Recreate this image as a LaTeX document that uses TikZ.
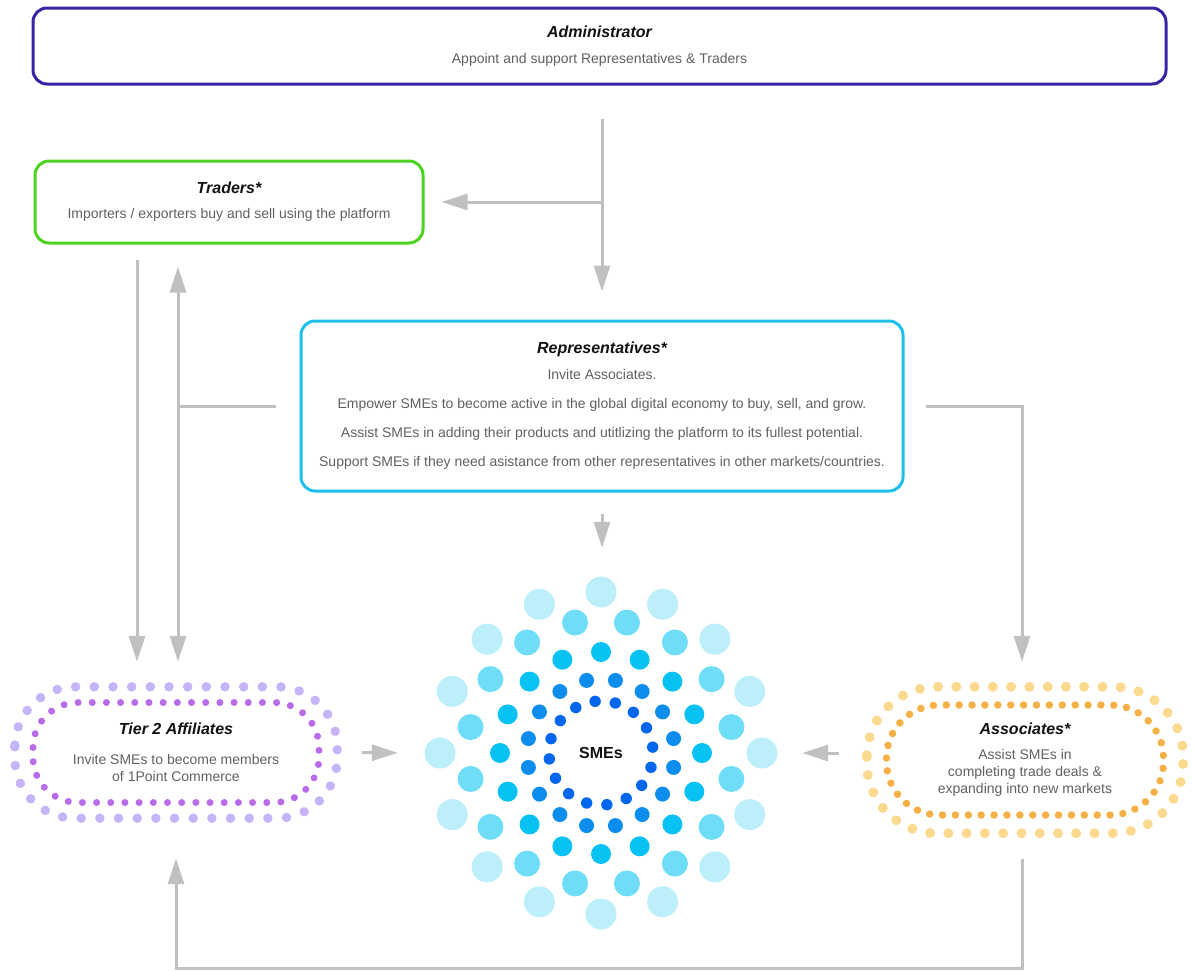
\documentclass[tikz,border=0pt]{standalone}
\usepackage{fontspec}
\setmainfont{Liberation Sans}
\usetikzlibrary{arrows.meta}

\definecolor{admincol}{HTML}{3525A5}
\definecolor{tradecol}{HTML}{4CD31F}
\definecolor{repcol}{HTML}{1EBFEA}
\definecolor{arrowcol}{HTML}{C0C0C0}
\definecolor{titlecol}{HTML}{111111}
\definecolor{bodycol}{HTML}{606060}
\definecolor{tierout}{HTML}{C5B4F7}
\definecolor{tierin}{HTML}{B86CEA}
\definecolor{assocout}{HTML}{FBD98E}
\definecolor{associn}{HTML}{F5B046}
\definecolor{smesA}{HTML}{BDEFFB}
\definecolor{smesB}{HTML}{6FDDF8}
\definecolor{smesC}{HTML}{08C2F3}
\definecolor{smesD}{HTML}{0D8EEE}
\definecolor{smesE}{HTML}{0066EE}

\newcommand{\boxtitle}[1]{{\fontsize{16}{19}\selectfont\bfseries\itshape\color{titlecol}#1}}

\begin{document}
\begin{tikzpicture}[x=1pt, y=-1pt,
    roundbox/.style={draw, line width=3pt, rounded corners=14pt, align=center, inner sep=0pt,
        font=\fontsize{14}{17}\selectfont, text=bodycol},
    ringnode/.style={align=center, inner sep=0pt, font=\fontsize{14}{17}\selectfont, text=bodycol},
    dotring/.style={line cap=round},
    flow/.style={line width=3pt, draw=arrowcol, >={Triangle[length=26pt,width=16pt]}, ->}]
    \useasboundingbox (0,0) rectangle (1193,970);

    % Role boxes
    \node[roundbox, draw=admincol, minimum width=1133pt, minimum height=76pt] (admin) at (599.5,46) {%
        \boxtitle{Administrator}\\[9pt]%
        Appoint and support Representatives \& Traders%
    };

    \node[roundbox, draw=tradecol, minimum width=388pt, minimum height=82pt] (traders) at (229,202) {%
        \boxtitle{Traders*}\\[8pt]%
        Importers / exporters buy and sell using the platform%
    };

    \node[roundbox, draw=repcol, minimum width=602pt, minimum height=170pt] (reps) at (602,406) {%
        \boxtitle{Representatives*}\\[9pt]%
        Invite Associates.\\[12pt]%
        Empower SMEs to become active in the global digital economy to buy, sell, and grow.\\[12pt]%
        Assist SMEs in adding their products and utitlizing the platform to its fullest potential.\\[12pt]%
        Support SMEs if they need asistance from other representatives in other markets/countries.%
    };

    % Dotted rings
    \node[ringnode, minimum width=322pt, minimum height=131pt] (tier) at (176,752.5) {%
        \boxtitle{Tier 2 Affiliates}\\[13pt]%
        Invite SMEs to become members\\%
        of 1Point Commerce%
    };
    \draw[dotring, draw=tierout, line width=9.5pt, dash pattern=on 0.01pt off 18.66pt, rounded corners=60pt]
        (tier.north west) rectangle (tier.south east);
    \draw[dotring, draw=tierin, line width=7pt, dash pattern=on 0.01pt off 14.17pt, rounded corners=45pt]
        ([shift={(-143,-50)}]tier.center) rectangle ([shift={(143,50)}]tier.center);

    \node[ringnode, minimum width=316pt, minimum height=146pt] (assoc) at (1025,760) {%
        \boxtitle{Associates*}\\[8pt]%
        Assist SMEs in\\%
        completing trade deals \&\\%
        expanding into new markets%
    };
    \draw[dotring, draw=assocout, line width=10pt, dash pattern=on 0.01pt off 18.26pt, rounded corners=70pt]
        (assoc.north west) rectangle (assoc.south east);
    \draw[dotring, draw=associn, line width=7.5pt, dash pattern=on 0.01pt off 12.88pt, rounded corners=53pt]
        ([shift={(-138.5,-55)}]assoc.center) rectangle ([shift={(138.5,55)}]assoc.center);

    % SMEs cluster
    \node[circle, minimum size=352pt, inner sep=0pt, font=\fontsize{16}{19}\selectfont\bfseries, text=titlecol] (smes) at (601,753) {SMEs};
    \foreach \rad/\off/\dotr/\col in {161/90/15.5/smesA, 133/101.25/13/smesB, 101/90/10/smesC, 74/101.25/7.5/smesD, 52/-96.5/5.7/smesE}
        \foreach \k in {0,...,15}
            \fill[\col] (smes.center) ++(\off+\k*22.5:\rad) circle[radius=\dotr pt];

    % Arrows
    \draw[flow, shorten <=33pt, shorten >=28pt] (admin.south -| reps.north) -- (reps.north);
    \draw[flow, shorten >=17pt] (reps.north |- traders.east) -- (traders.east);
    \draw[flow, shorten <=15pt, shorten >=25pt] ([xshift=-92pt]traders.south) -- ([xshift=-92pt]traders.south |- tier.north);
    \draw[flow, <->, shorten <=22pt, shorten >=25pt] ([xshift=-51pt]traders.south) -- ([xshift=-51pt]traders.south |- tier.north);
    \draw[flow, -, shorten <=24pt] (reps.west) -- ([xshift=-51pt]traders.south |- reps.west);
    \draw[flow, shorten <=21pt, shorten >=25pt] (reps.east) -| ([xshift=-3pt]assoc.north);
    \draw[flow, shorten <=21pt, shorten >=29pt] (reps.south) -- (reps.south |- smes.north);
    \draw[flow, shorten <=25pt, shorten >=27pt] (tier.east) -- (smes.west);
    \draw[flow, shorten <=28pt, shorten >=25pt] (assoc.west |- smes.east) -- (smes.east);

    % Loop back to Tier 2
    \coordinate (loopfloor) at (600,968);
    \draw[flow, shorten <=26pt, shorten >=40pt] ([xshift=-3pt]assoc.south) |- (loopfloor) -| (tier.south);
\end{tikzpicture}
\end{document}
